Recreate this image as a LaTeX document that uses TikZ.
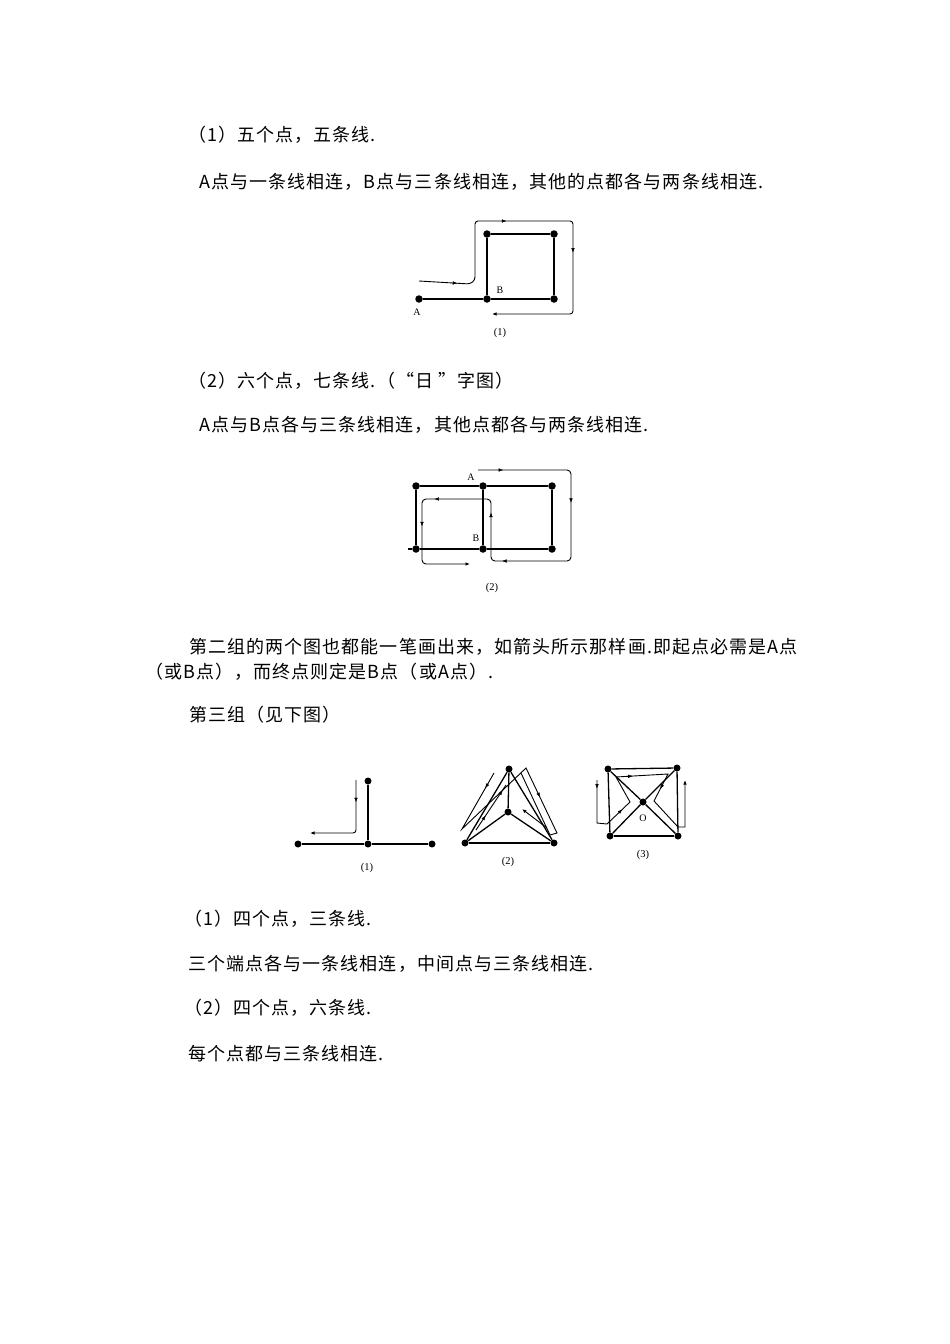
\documentclass[tikz,border=0pt]{standalone}
\usepackage{fontspec}
\newfontfamily\cjk[LetterSpace=6]{Noto Sans CJK SC}
\newfontfamily\lab{Liberation Serif}
\usetikzlibrary{arrows.meta,decorations.markings}
\begin{document}
\begin{tikzpicture}[x=1pt,y=-1pt,
  txt/.style={anchor=west,inner sep=0pt,font=\cjk\fontsize{18}{20}\selectfont},
  dot/.style={circle,fill=black,inner sep=0pt,minimum size=7.5pt},
  sdot/.style={circle,fill=black,inner sep=0pt,minimum size=7pt},
  edge/.style={line width=1.3pt},
  trace/.style={line width=0.9pt},
  figlab/.style={inner sep=0pt,font=\lab\fontsize{10.5}{12}\selectfont},
  ptlab/.style={inner sep=0pt,font=\lab\fontsize{10}{12}\selectfont},
  tip/.style={-{Latex[length=4.5pt,width=3.5pt]}},
  amark/.style={postaction={decorate},decoration={markings,mark=at position #1 with {\arrow{Latex[length=4.5pt,width=3.5pt]}}}},
  amarktwo/.style 2 args={postaction={decorate},decoration={markings,
     mark=at position #1 with {\arrow{Latex[length=4.5pt,width=3.5pt]}},
     mark=at position #2 with {\arrow{Latex[length=4.5pt,width=3.5pt]}}}}
]
\fill[white] (0,0) rectangle (950,1344);
\useasboundingbox (0,0) rectangle (950,1344);

% ---------------- texts ----------------
\node[txt] (l1) at (188,135) {（1）五个点，五条线.};
\node[txt] (l2) at (199,182) {A点与一条线相连，B点与三条线相连，其他的点都各与两条线相连.};
\node[txt] (l3) at (188,381) {（2）六个点，七条线.（“日 ”字图）};
\node[txt] (l4) at (199,425) {A点与B点各与三条线相连，其他点都各与两条线相连.};
\node[txt] (l5) at (189,647) {第二组的两个图也都能一笔画出来，如箭头所示那样画.即起点必需是A点};
\node[txt] (l6) at (145,672) {（或B点），而终点则定是B点（或A点）.};
\node[txt] (l7) at (189,715) {第三组（见下图）};
\node[txt] (l8) at (184,919) {（1）四个点，三条线.};
\node[txt] (l9) at (188,964) {三个端点各与一条线相连，中间点与三条线相连.};
\node[txt] (l10) at (184,1008) {（2）四个点，六条线.};
\node[txt] (l11) at (188,1054) {每个点都与三条线相连.};

% ---------------- figure 1 (top) ----------------
\node[dot] (f1A) at (419,299) {};
\node[dot] (f1B) at (487,299) {};
\node[dot] (f1TL) at (487,234) {};
\node[dot] (f1TR) at (554,234) {};
\node[dot] (f1BR) at (554,299) {};
\draw[edge] (f1A) -- (f1B);
\draw[edge] (f1B) -- (f1TL);
\draw[edge] (f1TL) -- (f1TR);
\draw[edge] (f1TR) -- (f1BR);
\draw[edge] (f1BR) -- (f1B);
\node[ptlab] (f1Al) at (417,312) {A};
\node[ptlab] (f1Bl) at (500,290) {B};
\node[figlab] (f1cap) at (500,333) {(1)};
\coordinate (t1) at (419,281);
\coordinate (t2) at (470,284);
\coordinate (t3) at (475,280);
\coordinate (t4) at (475,221);
\coordinate (t5) at (573,221);
\coordinate (t6) at (573,314);
\coordinate (t7) at (492,314);
\draw[trace,tip,rounded corners=3pt] (t1) -- (t2) -- (t3) -- (t4) -- (t5) -- (t6) -- (t7);
\path[amark=0.75] (t1) -- (t2);
\path[amark=0.32] (t4) -- (t5);
\path[amark=0.34] (t5) -- (t6);

% ---------------- figure 2 ----------------
\node[dot] (f2TL) at (416,486) {};
\node[dot] (f2A) at (483,486) {};
\node[dot] (f2TR) at (552,486) {};
\node[dot] (f2BL) at (416,549) {};
\node[dot] (f2B) at (483,549) {};
\node[dot] (f2BR) at (552,549) {};
\coordinate (f2stub) at (408,549);
\draw[edge] (f2TL) -- (f2A);
\draw[edge] (f2A) -- (f2TR);
\draw[edge] (f2TR) -- (f2BR);
\draw[edge] (f2BR) -- (f2B);
\draw[edge] (f2B) -- (f2BL);
\draw[edge] (f2BL) -- (f2TL);
\draw[edge] (f2A) -- (f2B);
\draw[edge] (f2stub) -- (f2BL);
\node[ptlab] (f2Al) at (471,477) {A};
\node[ptlab] (f2Bl) at (476,538) {B};
\node[figlab] (f2cap) at (492,588) {(2)};
\coordinate (u1) at (478,470);
\coordinate (u2) at (571,470);
\coordinate (u3) at (571,561);
\coordinate (u4) at (491,561);
\coordinate (u5) at (491,499);
\coordinate (u6) at (422,499);
\coordinate (u7) at (422,564);
\coordinate (u8) at (470,564);
\draw[trace,tip,rounded corners=4pt] (u1) -- (u2) -- (u3) -- (u4) -- (u5) -- (u6) -- (u7) -- (u8);
\path[amark=0.27] (u1) -- (u2);
\path[amark=0.36] (u2) -- (u3);
\path[amark=0.86] (u3) -- (u4);
\path[amark=0.78] (u4) -- (u5);
\path[amark=0.82] (u5) -- (u6);
\path[amark=0.42] (u6) -- (u7);

% ---------------- group 3, figure (1) ----------------
\node[sdot] (g1L) at (298,844) {};
\node[sdot] (g1C) at (368,844) {};
\node[sdot] (g1R) at (432,844) {};
\node[sdot] (g1T) at (368,781) {};
\draw[edge] (g1L) -- (g1C);
\draw[edge] (g1C) -- (g1R);
\draw[edge] (g1C) -- (g1T);
\node[figlab] (g1cap) at (367,868) {(1)};
\coordinate (v1) at (356,780);
\coordinate (v2) at (356,833);
\coordinate (v3) at (310,833);
\draw[trace,tip,rounded corners=3pt] (v1) -- (v2) -- (v3);
\path[amark=0.42] (v1) -- (v2);

% ---------------- group 3, figure (2) ----------------
\node[sdot] (g2T) at (509,769) {};
\node[sdot] (g2C) at (508,812) {};
\node[sdot] (g2L) at (465,843) {};
\node[sdot] (g2R) at (554,843) {};
\draw[edge] (g2L) -- (g2T);
\draw[edge] (g2T) -- (g2R);
\draw[edge] (g2R) -- (g2L);
\draw[edge] (g2C) -- (g2T);
\draw[edge] (g2C) -- (g2L);
\draw[edge] (g2C) -- (g2R);
\node[figlab] (g2cap) at (508,862) {(2)};
\coordinate (w1) at (494,773);
\coordinate (w2) at (462,829);
\coordinate (w3) at (526,768);
\coordinate (w4) at (557,833);
\coordinate (w5) at (550,835);
\coordinate (w6) at (521,773);
\draw[trace] (w1) -- (w2) -- (w3) -- (w4) -- (w5) -- (w6);
\path[amark=0.27] (w1) -- (w2);
\path[amark=0.45] (w3) -- (w4);
\coordinate (w7) at (476,830);
\coordinate (w8) at (506,785);
\draw[trace] (w7) -- (w8);
\path[amarktwo={0.32}{0.88}] (w7) -- (w8);
\coordinate (w9) at (547,828);
\coordinate (w10) at (522,809);
\draw[trace,tip] (w9) -- (w10);

% ---------------- group 3, figure (3) ----------------
\node[sdot] (g3TL) at (608,769) {};
\node[sdot] (g3TR) at (677,768) {};
\node[sdot] (g3C) at (643,802) {};
\node[sdot] (g3BL) at (610,836) {};
\node[sdot] (g3BR) at (678,836) {};
\draw[edge] (g3TL) -- (g3TR);
\draw[edge] (g3TR) -- (g3BR);
\draw[edge] (g3BR) -- (g3BL);
\draw[edge] (g3BL) -- (g3TL);
\draw[edge] (g3TL) -- (g3C);
\draw[edge] (g3C) -- (g3BR);
\draw[edge] (g3TR) -- (g3C);
\draw[edge] (g3C) -- (g3BL);
\node[ptlab] (g3Ol) at (643,818) {O};
\node[figlab] (g3cap) at (643,855) {(3)};
\coordinate (x1) at (597,780);
\coordinate (x2) at (597,823);
\coordinate (x3) at (607,824);
\coordinate (x4) at (630,802);
\coordinate (x5) at (616,777);
\coordinate (x6) at (668,774);
\coordinate (x7) at (654,801);
\coordinate (x8) at (678,827);
\coordinate (x9) at (685,827);
\coordinate (x10) at (685,780);
\draw[trace,tip] (x1) -- (x2) -- (x3) -- (x4) -- (x5) -- (x6) -- (x7) -- (x8) -- (x9) -- (x10);
\path[amark=0.2] (x1) -- (x2);
\path[amark=0.66] (x3) -- (x4);
\path[amark=0.32] (x5) -- (x6);
\path[amark=0.55] (x6) -- (x7);
\end{tikzpicture}
\end{document}
